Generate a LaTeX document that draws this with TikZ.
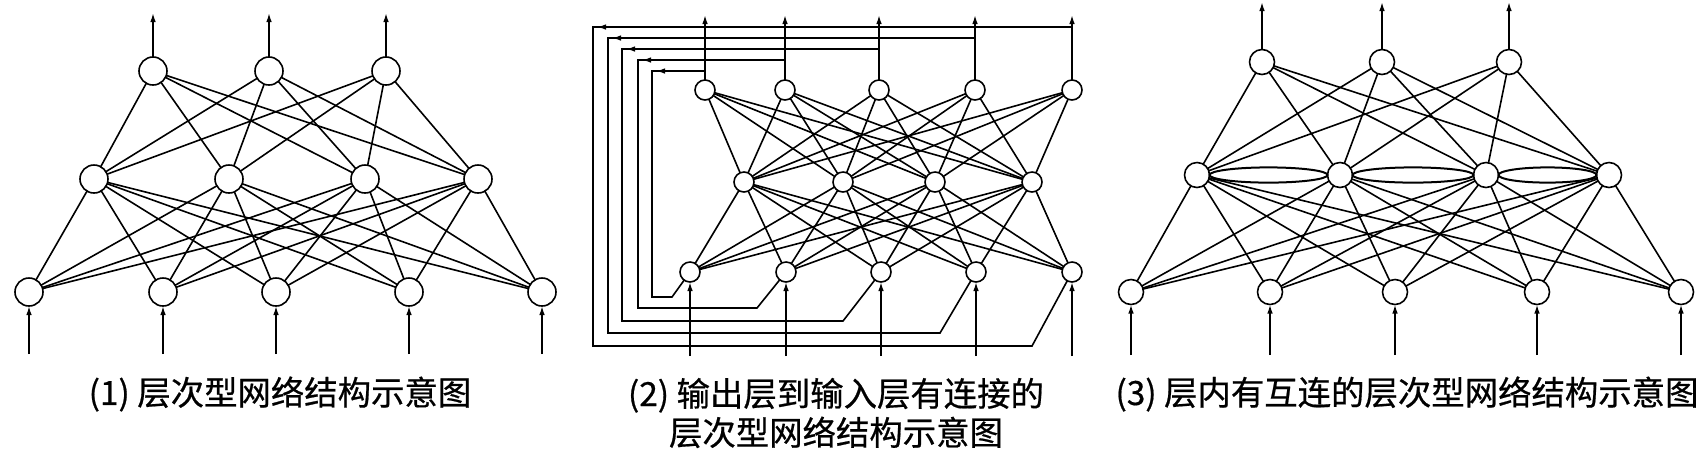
\documentclass[tikz,border=0pt]{standalone}
\usepackage{fontspec}
\newfontfamily\cjk{Noto Sans CJK SC}[FakeBold=0.6]
\usetikzlibrary{arrows.meta,calc}
\tikzset{neuron/.style={circle, draw=black, minimum size=#1, inner sep=0pt, outer sep=0pt},
%default diameter is 14pt
neuron/.default={14pt},
sig/.style={-{Latex[length=4.5pt,width=2.8pt]}},
caption/.style={font=\cjk\fontsize{16.7}{19.5}\selectfont, align=center}}

\begin{document}
\begin{tikzpicture}[x=0.5pt, y=0.5pt, line width=0.8pt]

\useasboundingbox (0,0) rectangle (1706,-463);

% (1)
\foreach \n/\x in {1/153,2/269,3/386}
    \node[neuron] (a-o\n) at (\x,-71) {};
\foreach \n/\x in {1/94,2/229,3/365,4/478}
    \node[neuron] (a-h\n) at (\x,-179) {};
\foreach \n/\x in {1/29,2/163,3/276,4/409,5/542}
    \node[neuron] (a-i\n) at (\x,-292) {};

\foreach \i in {1,...,5}
    \foreach \j in {1,...,4}
        \draw (a-i\i) -- (a-h\j);
\foreach \j in {1,...,4}
    \foreach \k in {1,2,3}
        \draw (a-h\j) -- (a-o\k);

\foreach \n in {1,2,3} {
    \coordinate (a-t\n) at (a-o\n |- 0,-13);
    \draw[sig] (a-o\n) -- (a-t\n);
}
\foreach \n in {1,...,5} {
    \coordinate (a-b\n) at (a-i\n |- 0,-354);
    \draw[sig] (a-b\n) -- (a-i\n);
}

% (2)
\foreach \n/\x in {1/705,2/785,3/879,4/975,5/1072}
    \node[neuron=10pt] (b-o\n) at (\x,-90) {};
\foreach \n/\x in {1/744,2/843,3/935,4/1032}
    \node[neuron=10pt] (b-h\n) at (\x,-182) {};
\foreach \n/\x in {1/690,2/786,3/881,4/976,5/1072}
    \node[neuron=10pt] (b-i\n) at (\x,-272) {};

\foreach \i in {1,...,5}
    \foreach \j in {1,...,4}
        \draw (b-i\i) -- (b-h\j);
\foreach \j in {1,...,4}
    \foreach \k in {1,...,5}
        \draw (b-h\j) -- (b-o\k);

\foreach \n in {1,...,5} {
    \coordinate (b-t\n) at (b-o\n |- 0,-15);
    \draw[sig] (b-o\n) -- (b-t\n);
    \coordinate (b-b\n) at (b-i\n |- 0,-356);
    \draw[sig] (b-b\n) -- (b-i\n);
}

% feedback: output n back to input n
\foreach \n/\yb/\xl/\yl/\xd in {1/71/652/297/672, 2/60/638/308/757, 3/49/622/321/843,
                                4/38/608/333/940, 5/27/593/346/1032} {
    \draw (b-o\n) -- (b-o\n |- 0,-\yb) -- (\xl,-\yb) -- (\xl,-\yl) -- (\xd,-\yl) -- (b-i\n);
    \draw[sig] ({\xl+16},-\yb) -- ({\xl+4},-\yb);
}

% (3)
\foreach \n/\x in {1/1262,2/1382,3/1509}
    \node[neuron=12.5pt] (c-o\n) at (\x,-62) {};
\foreach \n/\x in {1/1197,2/1340,3/1486,4/1609}
    \node[neuron=12.5pt] (c-h\n) at (\x,-175) {};
\foreach \n/\x in {1/1131,2/1270,3/1395,4/1537,5/1681}
    \node[neuron=12.5pt] (c-i\n) at (\x,-292) {};

\foreach \i in {1,...,5}
    \foreach \j in {1,...,4}
        \draw (c-i\i) -- (c-h\j);
\foreach \j in {1,...,4}
    \foreach \k in {1,2,3}
        \draw (c-h\j) -- (c-o\k);

% links inside the hidden layer
\foreach \j/\k in {1/2,2/3,3/4}
    \draw[line width=1pt] let \p1=(c-h\j.east), \p2=(c-h\k.west) in
        ($(\p1)!0.5!(\p2)$) ellipse [x radius={(\x2-\x1)/2}, y radius=3.8pt];

\foreach \n in {1,2,3} {
    \coordinate (c-t\n) at (c-o\n |- 0,-2);
    \draw[sig] (c-o\n) -- (c-t\n);
}
\foreach \n in {1,...,5} {
    \coordinate (c-b\n) at (c-i\n |- 0,-355);
    \draw[sig] (c-b\n) -- (c-i\n);
}

% captions
\node[caption] (cap1) at (280,-394) {(1) 层次型网络结构示意图};
\node[caption] (cap2) at (836,-413) {(2) 输出层到输入层有连接的\\层次型网络结构示意图};
\node[caption] (cap3) at (1407,-394) {(3) 层内有互连的层次型网络结构示意图};

\end{tikzpicture}
\end{document}
